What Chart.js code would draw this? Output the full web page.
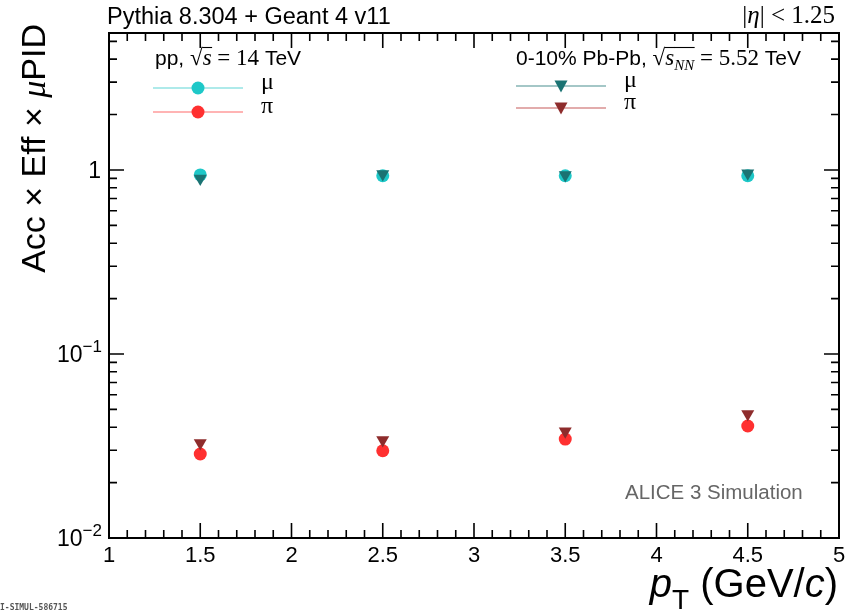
<!DOCTYPE html>
<html>
<head>
<meta charset="utf-8">
<script src="https://cdn.jsdelivr.net/npm/chart.js@4/dist/chart.umd.min.js"></script>
<style>
  html, body { margin: 0; padding: 0; background: #fff; }
  #wrap { width: 847px; height: 614px; }
</style>
</head>
<body>
<div id="wrap"><canvas id="effChart" width="847" height="614"></canvas></div>
<script>
// pT bin centres (GeV/c)
const ptBins = [1.5, 2.5, 3.5, 4.5];

// pp, sqrt(s) = 14 TeV
const ppMu = [0.94, 0.93, 0.93, 0.93];
const ppPi = [0.0286, 0.0298, 0.0345, 0.0406];

// 0-10% Pb-Pb, sqrt(sNN) = 5.52 TeV
const pbMu = [0.90, 0.95, 0.94, 0.96];
const pbPi = [0.0328, 0.0341, 0.0380, 0.0472];

// axis labels
const xTickLabels = ["1", "1.5", "2", "2.5", "3", "3.5", "4", "4.5", "5"];
const yDecades = [0.01, 0.1, 1];

const SANS = '"Liberation Sans", Arial, sans-serif';
const SERIF = '"Liberation Serif", "Times New Roman", serif';

const colMuPP = '#1ec8c8';
const colPiPP = '#ff3030';
const colMuPb = '#1b7373';
const colPiPb = '#8e2c2c';

const toPts = (ys) => ptBins.map((x, i) => ({ x: x, y: ys[i] }));

// draws a list of text runs in a row, each with its own font and baseline shift;
// runs flagged with bar get a radical overline
function drawRuns(ctx, runs, x, y, align) {
    let total = 0;
    runs.forEach(r => { ctx.font = r.font; total += ctx.measureText(r.t).width; });
    let cx = align === 'right' ? x - total : (align === 'center' ? x - total / 2 : x);
    runs.forEach(r => {
        ctx.font = r.font;
        const w = ctx.measureText(r.t).width;
        ctx.fillText(r.t, cx, y + (r.dy || 0));
        if (r.bar) {
            ctx.save();
            ctx.strokeStyle = ctx.fillStyle;
            ctx.lineWidth = 1.1;
            ctx.beginPath();
            ctx.moveTo(cx - 0.5, y - 17.5);
            ctx.lineTo(cx + w + 0.5, y - 17.5);
            ctx.stroke();
            ctx.restore();
        }
        cx += w;
    });
    return total;
}

function drawMarker(ctx, style, color, x, y) {
    ctx.fillStyle = color;
    ctx.beginPath();
    if (style === 'circle') {
        ctx.arc(x, y, 6.5, 0, Math.PI * 2);
    } else {
        ctx.moveTo(x - 6.5, y - 5.5);
        ctx.lineTo(x + 6.5, y - 5.5);
        ctx.lineTo(x, y + 6.5);
        ctx.closePath();
    }
    ctx.fill();
}

// ROOT-style frame with inner ticks, labels, titles and legends
const rootFrame = {
    id: 'rootFrame',
    afterDraw(chart) {
        const ctx = chart.ctx;
        const a = chart.chartArea;
        const xs = chart.scales.x;
        const ys = chart.scales.y;
        ctx.save();

        // frame
        ctx.strokeStyle = '#000';
        ctx.lineWidth = 2;
        ctx.strokeRect(a.left, a.top, a.right - a.left, a.bottom - a.top);

        // x ticks: major every 0.5, minor every 0.1
        ctx.lineWidth = 1.6;
        ctx.beginPath();
        for (let i = 0; i <= 40; i++) {
            const v = 1 + i * 0.1;
            const px = xs.getPixelForValue(v);
            const len = (i % 5 === 0) ? 15 : 8;
            ctx.moveTo(px, a.bottom); ctx.lineTo(px, a.bottom - len);
            ctx.moveTo(px, a.top); ctx.lineTo(px, a.top + len);
        }
        // y ticks: decades long, 2..9 short
        for (let d = -2; d <= 0; d++) {
            for (let m = 1; m <= 9; m++) {
                const v = m * Math.pow(10, d);
                if (v > ys.max) continue;
                const py = ys.getPixelForValue(v);
                const len = (m === 1) ? 15 : 8;
                ctx.moveTo(a.left, py); ctx.lineTo(a.left + len, py);
                ctx.moveTo(a.right, py); ctx.lineTo(a.right - len, py);
            }
        }
        ctx.stroke();

        // x tick labels
        ctx.fillStyle = '#000';
        ctx.textBaseline = 'alphabetic';
        ctx.textAlign = 'center';
        ctx.font = '22px ' + SANS;
        xTickLabels.forEach(t => {
            ctx.fillText(t, xs.getPixelForValue(parseFloat(t)), 562);
        });

        // y tick labels
        ctx.textAlign = 'left';
        yDecades.forEach(v => {
            const py = ys.getPixelForValue(v) + 8;
            const exp = Math.round(Math.log10(v));
            if (exp === 0) {
                drawRuns(ctx, [{ t: '1', font: '23px ' + SANS }], 101, py, 'right');
            } else {
                drawRuns(ctx, [
                    { t: '10', font: '23px ' + SANS },
                    { t: '\u2212' + Math.abs(exp), font: '17px ' + SANS, dy: -10 }
                ], 102, py, 'right');
            }
        });

        // axis titles
        drawRuns(ctx, [
            { t: 'p', font: 'italic 40px ' + SANS },
            { t: 'T', font: '28px ' + SANS, dy: 12 },
            { t: ' (GeV/', font: '40px ' + SANS },
            { t: 'c', font: 'italic 40px ' + SANS },
            { t: ')', font: '40px ' + SANS }
        ], 838, 597, 'right');

        ctx.save();
        ctx.translate(45, 24);
        ctx.rotate(-Math.PI / 2);
        drawRuns(ctx, [
            { t: 'Acc \u00d7 Eff \u00d7 ', font: '34px ' + SANS },
            { t: '\u03bc', font: 'italic 34px ' + SERIF },
            { t: 'PID', font: '34px ' + SANS }
        ], 0, 0, 'right');
        ctx.restore();

        // header texts
        drawRuns(ctx, [{ t: 'Pythia 8.304 + Geant 4 v11', font: '23.5px ' + SANS }], 107, 24, 'left');
        drawRuns(ctx, [
            { t: '|', font: '25px ' + SERIF },
            { t: '\u03b7', font: 'italic 25px ' + SERIF },
            { t: '| < 1.25', font: '25px ' + SERIF }
        ], 835, 23, 'right');

        // legend: pp
        drawRuns(ctx, [
            { t: 'pp, ', font: '21px ' + SANS },
            { t: '\u221a', font: '23px ' + SERIF },
            { t: 's', font: 'italic 23px ' + SERIF, bar: true },
            { t: ' = 14', font: '23px ' + SERIF },
            { t: ' TeV', font: '21px ' + SANS }
        ], 155, 65, 'left');
        // legend: Pb-Pb
        drawRuns(ctx, [
            { t: '0-10% Pb-Pb, ', font: '21px ' + SANS },
            { t: '\u221a', font: '23px ' + SERIF },
            { t: 's', font: 'italic 23px ' + SERIF, bar: true },
            { t: 'NN', font: 'italic 15px ' + SERIF, dy: 5, bar: true },
            { t: ' = 5.52', font: '23px ' + SERIF },
            { t: ' TeV', font: '21px ' + SANS }
        ], 516, 65, 'left');

        const entries = [
            { x0: 153, x1: 243, y: 88, style: 'circle', color: colMuPP, line: '#5fd6d6', label: '\u03bc' },
            { x0: 153, x1: 243, y: 112, style: 'circle', color: colPiPP, line: '#ff6b6b', label: '\u03c0' },
            { x0: 516, x1: 606, y: 86, style: 'triangle', color: colMuPb, line: '#4a9090', label: '\u03bc' },
            { x0: 516, x1: 606, y: 108, style: 'triangle', color: colPiPb, line: '#c65a5a', label: '\u03c0' }
        ];
        entries.forEach(e => {
            ctx.strokeStyle = e.line;
            ctx.lineWidth = 1.2;
            ctx.beginPath();
            ctx.moveTo(e.x0, e.y); ctx.lineTo(e.x1, e.y);
            ctx.stroke();
            drawMarker(ctx, e.style, e.color, (e.x0 + e.x1) / 2, e.y);
            ctx.fillStyle = '#000';
            drawRuns(ctx, [{ t: e.label, font: '24px ' + SERIF }], e.x1 + 18, e.y + 1, 'left');
        });

        // simulation tag
        ctx.fillStyle = '#666';
        drawRuns(ctx, [{ t: 'ALICE 3 Simulation', font: '20.5px ' + SANS }], 625, 499, 'left');

        // figure id
        ctx.fillStyle = '#555';
        drawRuns(ctx, [{ t: 'ALI-SIMUL-586715', font: 'bold 8px "DejaVu Sans Mono", monospace' }], -9.6, 610, 'left');

        ctx.restore();
    }
};

const ctx = document.getElementById('effChart').getContext('2d');

// Pb-Pb listed first so its triangles sit on top of the pp circles
new Chart(ctx, {
    type: 'scatter',
    plugins: [rootFrame],
    data: {
        datasets: [
            { label: 'PbPb mu', data: toPts(pbMu), backgroundColor: colMuPb, borderWidth: 0, pointStyle: 'triangle', rotation: 180, pointRadius: 7.5 },
            { label: 'PbPb pi', data: toPts(pbPi), backgroundColor: colPiPb, borderWidth: 0, pointStyle: 'triangle', rotation: 180, pointRadius: 7.5 },
            { label: 'pp mu', data: toPts(ppMu), backgroundColor: colMuPP, borderWidth: 0, pointStyle: 'circle', pointRadius: 6.5 },
            { label: 'pp pi', data: toPts(ppPi), backgroundColor: colPiPP, borderWidth: 0, pointStyle: 'circle', pointRadius: 6.5 }
        ]
    },
    options: {
        responsive: false,
        animation: false,
        devicePixelRatio: 1,
        layout: { padding: { left: 109, right: 8, top: 33, bottom: 76 } },
        plugins: {
            legend: { display: false },
            tooltip: { enabled: false }
        },
        scales: {
            x: { type: 'linear', min: 1, max: 5, display: false },
            y: { type: 'logarithmic', min: 0.01, max: 5.55, display: false }
        }
    }
});
</script>
</body>
</html>
